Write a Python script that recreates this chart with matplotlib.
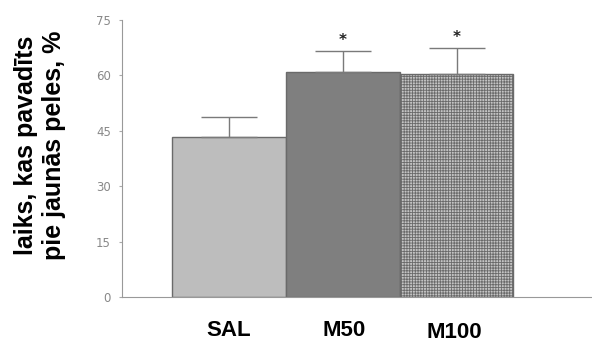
import matplotlib
matplotlib.use("Agg")
from matplotlib import pyplot as plt

groups = ["SAL", "M50", "M100"]
means = [43.4, 60.8, 60.3]
errors = [5.4, 5.8, 7.2]
stars = ["", "*", "*"]

plt.rcParams['hatch.linewidth'] = 0.6
plt.rcParams['hatch.color'] = '#6e6e6e'

fig = plt.figure(figsize=(5.92, 3.43), dpi=100)
ax = fig.add_axes([122 / 592, 1 - 297 / 343, 1 - 122 / 592, 277 / 343])

x = range(len(groups))
bars = ax.bar(x, means, width=1.0, color=['#bdbdbd', '#7f7f7f', '#c4c4c4'],
              edgecolor='#6a6a6a', linewidth=1.0)
bars[2].set_hatch('++++++')
ax.errorbar(x, means, yerr=[[0] * 3, errors], fmt='none', ecolor='#7a7a7a',
            elinewidth=1.0, capsize=20, capthick=1.0)

for i, s in enumerate(stars):
    if s:
        ax.text(i, means[i] + errors[i] + 0.8, s, ha='center', va='bottom',
                fontsize=11, fontweight='bold', color='#222222')

ax.set_xlim(-0.94, 3.19)
ax.set_ylim(0, 75)
ax.set_yticks([0, 15, 30, 45, 60, 75])
ax.tick_params(axis='y', labelsize=8.5, labelcolor='#888888', color='#aaaaaa',
               length=2.5, pad=5.5, direction='out')
ax.set_xticks([])
for side in ['top', 'right']:
    ax.spines[side].set_visible(False)
ax.spines['left'].set_color('#999999')
ax.spines['bottom'].set_color('#999999')

label_x = [0.0, 1.01, 1.98]
label_y = [-6.3, -6.3, -6.9]
for i, g in enumerate(groups):
    ax.text(label_x[i], label_y[i], g, ha='center', va='top', fontsize=16,
            fontweight='bold', family='Liberation Sans', clip_on=False)

fig.text(0.068, 0.577, "laiks, kas pavadīts\npie jaunās peles, %", rotation=90,
         ha='center', va='center', fontsize=18, fontweight='bold',
         family='Liberation Sans', linespacing=1.2)

fig.savefig("out.png", dpi=100)
